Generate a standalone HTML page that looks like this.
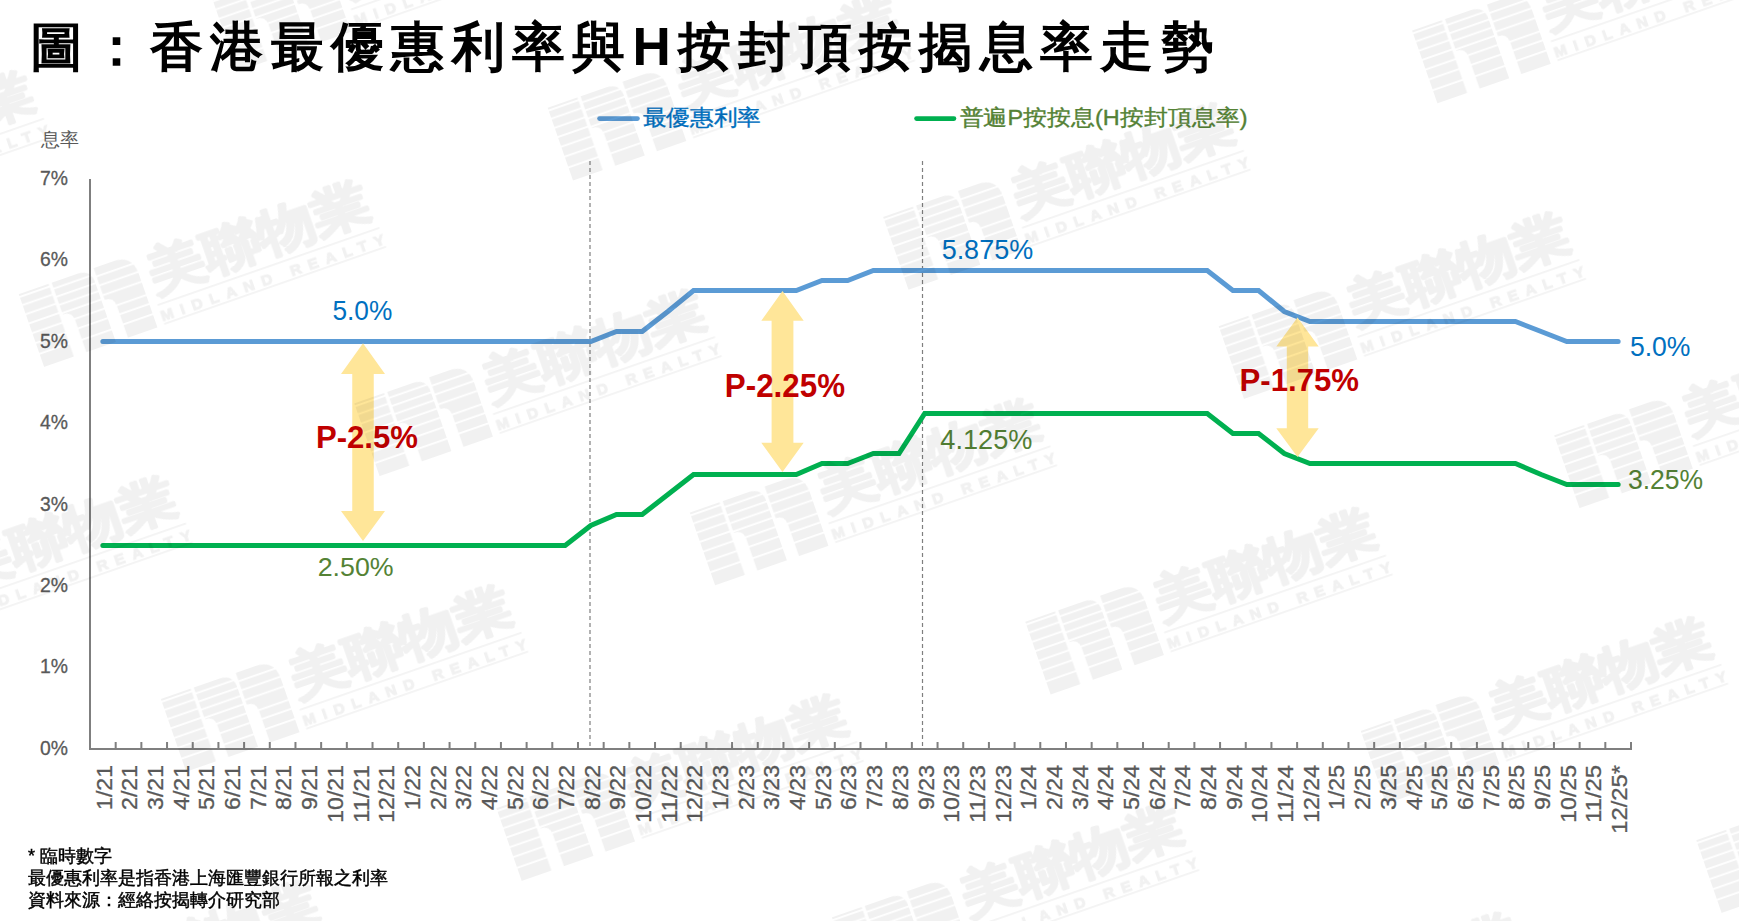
<!DOCTYPE html>
<html><head><meta charset="utf-8"><style>
html,body{margin:0;padding:0;background:#fff;width:1739px;height:921px;overflow:hidden}
svg{display:block}
text{font-family:"Liberation Sans",sans-serif}
</style></head><body>
<svg width="1739" height="921" viewBox="0 0 1739 921">
<rect width="1739" height="921" fill="#fff"/>
<text x="29.5" y="64.8" font-size="53" font-weight="bold" fill="#000" textLength="1184" lengthAdjust="spacing">圖：香港最優惠利率與H按封頂按揭息率走勢</text>
<line x1="599.5" y1="118.6" x2="637.5" y2="118.6" stroke="#5b9bd5" stroke-width="4.6" stroke-linecap="round"/>
<text x="642.5" y="124.8" font-size="21.5" fill="#0070c0" stroke="#0070c0" stroke-width="0.35" textLength="118.5" lengthAdjust="spacingAndGlyphs">最優惠利率</text>
<line x1="916.5" y1="118.6" x2="954" y2="118.6" stroke="#00b050" stroke-width="4.6" stroke-linecap="round"/>
<text x="959.5" y="124.8" font-size="21.5" fill="#548235" stroke="#548235" stroke-width="0.35" textLength="288" lengthAdjust="spacingAndGlyphs">普遍P按按息(H按封頂息率)</text>
<text x="41" y="145.8" font-size="19" fill="#595959" textLength="38" lengthAdjust="spacing">息率</text>
<text x="68.10" y="754.90" font-size="21" fill="#595959" stroke="#595959" stroke-width="0.3" text-anchor="end" textLength="28" lengthAdjust="spacingAndGlyphs">0%</text>
<text x="68.10" y="673.47" font-size="21" fill="#595959" stroke="#595959" stroke-width="0.3" text-anchor="end" textLength="28" lengthAdjust="spacingAndGlyphs">1%</text>
<text x="68.10" y="592.04" font-size="21" fill="#595959" stroke="#595959" stroke-width="0.3" text-anchor="end" textLength="28" lengthAdjust="spacingAndGlyphs">2%</text>
<text x="68.10" y="510.61" font-size="21" fill="#595959" stroke="#595959" stroke-width="0.3" text-anchor="end" textLength="28" lengthAdjust="spacingAndGlyphs">3%</text>
<text x="68.10" y="429.18" font-size="21" fill="#595959" stroke="#595959" stroke-width="0.3" text-anchor="end" textLength="28" lengthAdjust="spacingAndGlyphs">4%</text>
<text x="68.10" y="347.75" font-size="21" fill="#595959" stroke="#595959" stroke-width="0.3" text-anchor="end" textLength="28" lengthAdjust="spacingAndGlyphs">5%</text>
<text x="68.10" y="266.32" font-size="21" fill="#595959" stroke="#595959" stroke-width="0.3" text-anchor="end" textLength="28" lengthAdjust="spacingAndGlyphs">6%</text>
<text x="68.10" y="184.89" font-size="21" fill="#595959" stroke="#595959" stroke-width="0.3" text-anchor="end" textLength="28" lengthAdjust="spacingAndGlyphs">7%</text>
<line x1="590" y1="161" x2="590" y2="747" stroke="#7f7f7f" stroke-width="1.2" stroke-dasharray="4,3"/>
<line x1="922.5" y1="161" x2="922.5" y2="747" stroke="#7f7f7f" stroke-width="1.2" stroke-dasharray="4,3"/>
<line x1="90.0" y1="179" x2="90.0" y2="749.0" stroke="#7f7f7f" stroke-width="2"/>
<line x1="89.0" y1="749.0" x2="1632.0" y2="749.0" stroke="#7f7f7f" stroke-width="2"/>
<path d="M115.68,742 V749.0 M141.37,742 V749.0 M167.05,742 V749.0 M192.73,742 V749.0 M218.42,742 V749.0 M244.10,742 V749.0 M269.78,742 V749.0 M295.47,742 V749.0 M321.15,742 V749.0 M346.83,742 V749.0 M372.52,742 V749.0 M398.20,742 V749.0 M423.88,742 V749.0 M449.57,742 V749.0 M475.25,742 V749.0 M500.93,742 V749.0 M526.62,742 V749.0 M552.30,742 V749.0 M577.98,742 V749.0 M603.67,742 V749.0 M629.35,742 V749.0 M655.03,742 V749.0 M680.72,742 V749.0 M706.40,742 V749.0 M732.08,742 V749.0 M757.77,742 V749.0 M783.45,742 V749.0 M809.13,742 V749.0 M834.82,742 V749.0 M860.50,742 V749.0 M886.18,742 V749.0 M911.87,742 V749.0 M937.55,742 V749.0 M963.23,742 V749.0 M988.92,742 V749.0 M1014.60,742 V749.0 M1040.28,742 V749.0 M1065.97,742 V749.0 M1091.65,742 V749.0 M1117.33,742 V749.0 M1143.02,742 V749.0 M1168.70,742 V749.0 M1194.38,742 V749.0 M1220.07,742 V749.0 M1245.75,742 V749.0 M1271.43,742 V749.0 M1297.12,742 V749.0 M1322.80,742 V749.0 M1348.48,742 V749.0 M1374.17,742 V749.0 M1399.85,742 V749.0 M1425.53,742 V749.0 M1451.22,742 V749.0 M1476.90,742 V749.0 M1502.58,742 V749.0 M1528.27,742 V749.0 M1553.95,742 V749.0 M1579.63,742 V749.0 M1605.32,742 V749.0 M1631.00,742 V749.0 " stroke="#7f7f7f" stroke-width="2" fill="none"/>
<text transform="translate(111.66,765) rotate(-90)" x="0" y="0" font-size="22" fill="#595959" stroke="#595959" stroke-width="0.3" text-anchor="end" textLength="44.95" lengthAdjust="spacingAndGlyphs">1/21</text>
<text transform="translate(137.34,765) rotate(-90)" x="0" y="0" font-size="22" fill="#595959" stroke="#595959" stroke-width="0.3" text-anchor="end" textLength="44.95" lengthAdjust="spacingAndGlyphs">2/21</text>
<text transform="translate(163.03,765) rotate(-90)" x="0" y="0" font-size="22" fill="#595959" stroke="#595959" stroke-width="0.3" text-anchor="end" textLength="44.95" lengthAdjust="spacingAndGlyphs">3/21</text>
<text transform="translate(188.71,765) rotate(-90)" x="0" y="0" font-size="22" fill="#595959" stroke="#595959" stroke-width="0.3" text-anchor="end" textLength="44.95" lengthAdjust="spacingAndGlyphs">4/21</text>
<text transform="translate(214.39,765) rotate(-90)" x="0" y="0" font-size="22" fill="#595959" stroke="#595959" stroke-width="0.3" text-anchor="end" textLength="44.95" lengthAdjust="spacingAndGlyphs">5/21</text>
<text transform="translate(240.08,765) rotate(-90)" x="0" y="0" font-size="22" fill="#595959" stroke="#595959" stroke-width="0.3" text-anchor="end" textLength="44.95" lengthAdjust="spacingAndGlyphs">6/21</text>
<text transform="translate(265.76,765) rotate(-90)" x="0" y="0" font-size="22" fill="#595959" stroke="#595959" stroke-width="0.3" text-anchor="end" textLength="44.95" lengthAdjust="spacingAndGlyphs">7/21</text>
<text transform="translate(291.44,765) rotate(-90)" x="0" y="0" font-size="22" fill="#595959" stroke="#595959" stroke-width="0.3" text-anchor="end" textLength="44.95" lengthAdjust="spacingAndGlyphs">8/21</text>
<text transform="translate(317.13,765) rotate(-90)" x="0" y="0" font-size="22" fill="#595959" stroke="#595959" stroke-width="0.3" text-anchor="end" textLength="44.95" lengthAdjust="spacingAndGlyphs">9/21</text>
<text transform="translate(342.81,765) rotate(-90)" x="0" y="0" font-size="22" fill="#595959" stroke="#595959" stroke-width="0.3" text-anchor="end" textLength="57.80" lengthAdjust="spacingAndGlyphs">10/21</text>
<text transform="translate(368.50,765) rotate(-90)" x="0" y="0" font-size="22" fill="#595959" stroke="#595959" stroke-width="0.3" text-anchor="end" textLength="57.80" lengthAdjust="spacingAndGlyphs">11/21</text>
<text transform="translate(394.18,765) rotate(-90)" x="0" y="0" font-size="22" fill="#595959" stroke="#595959" stroke-width="0.3" text-anchor="end" textLength="57.80" lengthAdjust="spacingAndGlyphs">12/21</text>
<text transform="translate(419.86,765) rotate(-90)" x="0" y="0" font-size="22" fill="#595959" stroke="#595959" stroke-width="0.3" text-anchor="end" textLength="44.95" lengthAdjust="spacingAndGlyphs">1/22</text>
<text transform="translate(445.55,765) rotate(-90)" x="0" y="0" font-size="22" fill="#595959" stroke="#595959" stroke-width="0.3" text-anchor="end" textLength="44.95" lengthAdjust="spacingAndGlyphs">2/22</text>
<text transform="translate(471.23,765) rotate(-90)" x="0" y="0" font-size="22" fill="#595959" stroke="#595959" stroke-width="0.3" text-anchor="end" textLength="44.95" lengthAdjust="spacingAndGlyphs">3/22</text>
<text transform="translate(496.91,765) rotate(-90)" x="0" y="0" font-size="22" fill="#595959" stroke="#595959" stroke-width="0.3" text-anchor="end" textLength="44.95" lengthAdjust="spacingAndGlyphs">4/22</text>
<text transform="translate(522.59,765) rotate(-90)" x="0" y="0" font-size="22" fill="#595959" stroke="#595959" stroke-width="0.3" text-anchor="end" textLength="44.95" lengthAdjust="spacingAndGlyphs">5/22</text>
<text transform="translate(548.28,765) rotate(-90)" x="0" y="0" font-size="22" fill="#595959" stroke="#595959" stroke-width="0.3" text-anchor="end" textLength="44.95" lengthAdjust="spacingAndGlyphs">6/22</text>
<text transform="translate(573.96,765) rotate(-90)" x="0" y="0" font-size="22" fill="#595959" stroke="#595959" stroke-width="0.3" text-anchor="end" textLength="44.95" lengthAdjust="spacingAndGlyphs">7/22</text>
<text transform="translate(599.64,765) rotate(-90)" x="0" y="0" font-size="22" fill="#595959" stroke="#595959" stroke-width="0.3" text-anchor="end" textLength="44.95" lengthAdjust="spacingAndGlyphs">8/22</text>
<text transform="translate(625.33,765) rotate(-90)" x="0" y="0" font-size="22" fill="#595959" stroke="#595959" stroke-width="0.3" text-anchor="end" textLength="44.95" lengthAdjust="spacingAndGlyphs">9/22</text>
<text transform="translate(651.01,765) rotate(-90)" x="0" y="0" font-size="22" fill="#595959" stroke="#595959" stroke-width="0.3" text-anchor="end" textLength="57.80" lengthAdjust="spacingAndGlyphs">10/22</text>
<text transform="translate(676.69,765) rotate(-90)" x="0" y="0" font-size="22" fill="#595959" stroke="#595959" stroke-width="0.3" text-anchor="end" textLength="57.80" lengthAdjust="spacingAndGlyphs">11/22</text>
<text transform="translate(702.38,765) rotate(-90)" x="0" y="0" font-size="22" fill="#595959" stroke="#595959" stroke-width="0.3" text-anchor="end" textLength="57.80" lengthAdjust="spacingAndGlyphs">12/22</text>
<text transform="translate(728.06,765) rotate(-90)" x="0" y="0" font-size="22" fill="#595959" stroke="#595959" stroke-width="0.3" text-anchor="end" textLength="44.95" lengthAdjust="spacingAndGlyphs">1/23</text>
<text transform="translate(753.74,765) rotate(-90)" x="0" y="0" font-size="22" fill="#595959" stroke="#595959" stroke-width="0.3" text-anchor="end" textLength="44.95" lengthAdjust="spacingAndGlyphs">2/23</text>
<text transform="translate(779.43,765) rotate(-90)" x="0" y="0" font-size="22" fill="#595959" stroke="#595959" stroke-width="0.3" text-anchor="end" textLength="44.95" lengthAdjust="spacingAndGlyphs">3/23</text>
<text transform="translate(805.11,765) rotate(-90)" x="0" y="0" font-size="22" fill="#595959" stroke="#595959" stroke-width="0.3" text-anchor="end" textLength="44.95" lengthAdjust="spacingAndGlyphs">4/23</text>
<text transform="translate(830.79,765) rotate(-90)" x="0" y="0" font-size="22" fill="#595959" stroke="#595959" stroke-width="0.3" text-anchor="end" textLength="44.95" lengthAdjust="spacingAndGlyphs">5/23</text>
<text transform="translate(856.48,765) rotate(-90)" x="0" y="0" font-size="22" fill="#595959" stroke="#595959" stroke-width="0.3" text-anchor="end" textLength="44.95" lengthAdjust="spacingAndGlyphs">6/23</text>
<text transform="translate(882.16,765) rotate(-90)" x="0" y="0" font-size="22" fill="#595959" stroke="#595959" stroke-width="0.3" text-anchor="end" textLength="44.95" lengthAdjust="spacingAndGlyphs">7/23</text>
<text transform="translate(907.84,765) rotate(-90)" x="0" y="0" font-size="22" fill="#595959" stroke="#595959" stroke-width="0.3" text-anchor="end" textLength="44.95" lengthAdjust="spacingAndGlyphs">8/23</text>
<text transform="translate(933.53,765) rotate(-90)" x="0" y="0" font-size="22" fill="#595959" stroke="#595959" stroke-width="0.3" text-anchor="end" textLength="44.95" lengthAdjust="spacingAndGlyphs">9/23</text>
<text transform="translate(959.21,765) rotate(-90)" x="0" y="0" font-size="22" fill="#595959" stroke="#595959" stroke-width="0.3" text-anchor="end" textLength="57.80" lengthAdjust="spacingAndGlyphs">10/23</text>
<text transform="translate(984.89,765) rotate(-90)" x="0" y="0" font-size="22" fill="#595959" stroke="#595959" stroke-width="0.3" text-anchor="end" textLength="57.80" lengthAdjust="spacingAndGlyphs">11/23</text>
<text transform="translate(1010.58,765) rotate(-90)" x="0" y="0" font-size="22" fill="#595959" stroke="#595959" stroke-width="0.3" text-anchor="end" textLength="57.80" lengthAdjust="spacingAndGlyphs">12/23</text>
<text transform="translate(1036.26,765) rotate(-90)" x="0" y="0" font-size="22" fill="#595959" stroke="#595959" stroke-width="0.3" text-anchor="end" textLength="44.95" lengthAdjust="spacingAndGlyphs">1/24</text>
<text transform="translate(1061.95,765) rotate(-90)" x="0" y="0" font-size="22" fill="#595959" stroke="#595959" stroke-width="0.3" text-anchor="end" textLength="44.95" lengthAdjust="spacingAndGlyphs">2/24</text>
<text transform="translate(1087.63,765) rotate(-90)" x="0" y="0" font-size="22" fill="#595959" stroke="#595959" stroke-width="0.3" text-anchor="end" textLength="44.95" lengthAdjust="spacingAndGlyphs">3/24</text>
<text transform="translate(1113.31,765) rotate(-90)" x="0" y="0" font-size="22" fill="#595959" stroke="#595959" stroke-width="0.3" text-anchor="end" textLength="44.95" lengthAdjust="spacingAndGlyphs">4/24</text>
<text transform="translate(1139.00,765) rotate(-90)" x="0" y="0" font-size="22" fill="#595959" stroke="#595959" stroke-width="0.3" text-anchor="end" textLength="44.95" lengthAdjust="spacingAndGlyphs">5/24</text>
<text transform="translate(1164.68,765) rotate(-90)" x="0" y="0" font-size="22" fill="#595959" stroke="#595959" stroke-width="0.3" text-anchor="end" textLength="44.95" lengthAdjust="spacingAndGlyphs">6/24</text>
<text transform="translate(1190.36,765) rotate(-90)" x="0" y="0" font-size="22" fill="#595959" stroke="#595959" stroke-width="0.3" text-anchor="end" textLength="44.95" lengthAdjust="spacingAndGlyphs">7/24</text>
<text transform="translate(1216.05,765) rotate(-90)" x="0" y="0" font-size="22" fill="#595959" stroke="#595959" stroke-width="0.3" text-anchor="end" textLength="44.95" lengthAdjust="spacingAndGlyphs">8/24</text>
<text transform="translate(1241.73,765) rotate(-90)" x="0" y="0" font-size="22" fill="#595959" stroke="#595959" stroke-width="0.3" text-anchor="end" textLength="44.95" lengthAdjust="spacingAndGlyphs">9/24</text>
<text transform="translate(1267.41,765) rotate(-90)" x="0" y="0" font-size="22" fill="#595959" stroke="#595959" stroke-width="0.3" text-anchor="end" textLength="57.80" lengthAdjust="spacingAndGlyphs">10/24</text>
<text transform="translate(1293.10,765) rotate(-90)" x="0" y="0" font-size="22" fill="#595959" stroke="#595959" stroke-width="0.3" text-anchor="end" textLength="57.80" lengthAdjust="spacingAndGlyphs">11/24</text>
<text transform="translate(1318.78,765) rotate(-90)" x="0" y="0" font-size="22" fill="#595959" stroke="#595959" stroke-width="0.3" text-anchor="end" textLength="57.80" lengthAdjust="spacingAndGlyphs">12/24</text>
<text transform="translate(1344.46,765) rotate(-90)" x="0" y="0" font-size="22" fill="#595959" stroke="#595959" stroke-width="0.3" text-anchor="end" textLength="44.95" lengthAdjust="spacingAndGlyphs">1/25</text>
<text transform="translate(1370.15,765) rotate(-90)" x="0" y="0" font-size="22" fill="#595959" stroke="#595959" stroke-width="0.3" text-anchor="end" textLength="44.95" lengthAdjust="spacingAndGlyphs">2/25</text>
<text transform="translate(1395.83,765) rotate(-90)" x="0" y="0" font-size="22" fill="#595959" stroke="#595959" stroke-width="0.3" text-anchor="end" textLength="44.95" lengthAdjust="spacingAndGlyphs">3/25</text>
<text transform="translate(1421.51,765) rotate(-90)" x="0" y="0" font-size="22" fill="#595959" stroke="#595959" stroke-width="0.3" text-anchor="end" textLength="44.95" lengthAdjust="spacingAndGlyphs">4/25</text>
<text transform="translate(1447.20,765) rotate(-90)" x="0" y="0" font-size="22" fill="#595959" stroke="#595959" stroke-width="0.3" text-anchor="end" textLength="44.95" lengthAdjust="spacingAndGlyphs">5/25</text>
<text transform="translate(1472.88,765) rotate(-90)" x="0" y="0" font-size="22" fill="#595959" stroke="#595959" stroke-width="0.3" text-anchor="end" textLength="44.95" lengthAdjust="spacingAndGlyphs">6/25</text>
<text transform="translate(1498.56,765) rotate(-90)" x="0" y="0" font-size="22" fill="#595959" stroke="#595959" stroke-width="0.3" text-anchor="end" textLength="44.95" lengthAdjust="spacingAndGlyphs">7/25</text>
<text transform="translate(1524.25,765) rotate(-90)" x="0" y="0" font-size="22" fill="#595959" stroke="#595959" stroke-width="0.3" text-anchor="end" textLength="44.95" lengthAdjust="spacingAndGlyphs">8/25</text>
<text transform="translate(1549.93,765) rotate(-90)" x="0" y="0" font-size="22" fill="#595959" stroke="#595959" stroke-width="0.3" text-anchor="end" textLength="44.95" lengthAdjust="spacingAndGlyphs">9/25</text>
<text transform="translate(1575.61,765) rotate(-90)" x="0" y="0" font-size="22" fill="#595959" stroke="#595959" stroke-width="0.3" text-anchor="end" textLength="57.80" lengthAdjust="spacingAndGlyphs">10/25</text>
<text transform="translate(1601.30,765) rotate(-90)" x="0" y="0" font-size="22" fill="#595959" stroke="#595959" stroke-width="0.3" text-anchor="end" textLength="57.80" lengthAdjust="spacingAndGlyphs">11/25</text>
<text transform="translate(1626.98,765) rotate(-90)" x="0" y="0" font-size="22" fill="#595959" stroke="#595959" stroke-width="0.3" text-anchor="end" textLength="68.78" lengthAdjust="spacingAndGlyphs">12/25*</text>
<path d="M102.84,341.50 L128.53,341.50 L154.21,341.50 L179.89,341.50 L205.57,341.50 L231.26,341.50 L256.94,341.50 L282.62,341.50 L308.31,341.50 L333.99,341.50 L359.68,341.50 L385.36,341.50 L411.04,341.50 L436.73,341.50 L462.41,341.50 L488.09,341.50 L513.77,341.50 L539.46,341.50 L565.14,341.50 L590.83,341.50 L616.51,331.50 L642.19,331.50 L667.88,311.50 L693.56,290.50 L719.24,290.50 L744.92,290.50 L770.61,290.50 L796.29,290.50 L821.98,280.50 L847.66,280.50 L873.34,270.50 L899.02,270.50 L924.71,270.50 L950.39,270.50 L976.08,270.50 L1001.76,270.50 L1027.44,270.50 L1053.12,270.50 L1078.81,270.50 L1104.49,270.50 L1130.17,270.50 L1155.86,270.50 L1181.54,270.50 L1207.22,270.50 L1232.91,290.50 L1258.59,290.50 L1284.28,311.50 L1309.96,321.50 L1335.64,321.50 L1361.33,321.50 L1387.01,321.50 L1412.69,321.50 L1438.38,321.50 L1464.06,321.50 L1489.74,321.50 L1515.42,321.50 L1541.11,331.50 L1566.79,341.50 L1592.47,341.50 L1618.16,341.50" fill="none" stroke="#5b9bd5" stroke-width="5" stroke-linecap="round" stroke-linejoin="miter"/>
<path d="M102.84,545.50 L128.53,545.50 L154.21,545.50 L179.89,545.50 L205.57,545.50 L231.26,545.50 L256.94,545.50 L282.62,545.50 L308.31,545.50 L333.99,545.50 L359.68,545.50 L385.36,545.50 L411.04,545.50 L436.73,545.50 L462.41,545.50 L488.09,545.50 L513.77,545.50 L539.46,545.50 L565.14,545.50 L590.83,525.50 L616.51,514.50 L642.19,514.50 L667.88,494.50 L693.56,474.50 L719.24,474.50 L744.92,474.50 L770.61,474.50 L796.29,474.50 L821.98,463.50 L847.66,463.50 L873.34,453.50 L899.02,453.50 L924.71,413.50 L950.39,413.50 L976.08,413.50 L1001.76,413.50 L1027.44,413.50 L1053.12,413.50 L1078.81,413.50 L1104.49,413.50 L1130.17,413.50 L1155.86,413.50 L1181.54,413.50 L1207.22,413.50 L1232.91,433.50 L1258.59,433.50 L1284.28,453.50 L1309.96,463.50 L1335.64,463.50 L1361.33,463.50 L1387.01,463.50 L1412.69,463.50 L1438.38,463.50 L1464.06,463.50 L1489.74,463.50 L1515.42,463.50 L1541.11,474.50 L1566.79,484.50 L1592.47,484.50 L1618.16,484.50" fill="none" stroke="#00b050" stroke-width="5" stroke-linecap="round" stroke-linejoin="miter"/>
<path d="M363,343.2 L385.0,374 L373.75,374 L373.75,511 L385.0,511 L363,540.9 L341.0,511 L352.25,511 L352.25,374 L341.0,374 Z" fill="#ffe699"/>
<path d="M782.5,290.9 L803.7,320.8 L793.4,320.8 L793.4,442.8 L803.7,442.8 L782.5,472.1 L761.3,442.8 L771.6,442.8 L771.6,320.8 L761.3,320.8 Z" fill="#ffe699"/>
<path d="M1297.5,317.5 L1318.7,346.5 L1308.2,346.5 L1308.2,428.3 L1318.7,428.3 L1297.5,456.9 L1276.3,428.3 L1286.8,428.3 L1286.8,346.5 L1276.3,346.5 Z" fill="#ffe699"/>
<text x="315.92" y="447.90" font-size="31.57" font-weight="bold" fill="#c00000" textLength="102.01" lengthAdjust="spacingAndGlyphs">P-2.5%</text>
<text x="724.87" y="397.20" font-size="32.57" font-weight="bold" fill="#c00000" textLength="120.18" lengthAdjust="spacingAndGlyphs">P-2.25%</text>
<text x="1239.59" y="390.80" font-size="32.14" font-weight="bold" fill="#c00000" textLength="119.45" lengthAdjust="spacingAndGlyphs">P-1.75%</text>
<text x="332.43" y="319.90" font-size="27.43" font-weight="normal" fill="#0070c0" textLength="59.92" lengthAdjust="spacingAndGlyphs">5.0%</text>
<text x="317.68" y="575.50" font-size="26.43" font-weight="normal" fill="#548235" textLength="75.95" lengthAdjust="spacingAndGlyphs">2.50%</text>
<text x="941.64" y="258.50" font-size="27.14" font-weight="normal" fill="#0070c0" textLength="91.50" lengthAdjust="spacingAndGlyphs">5.875%</text>
<text x="940.35" y="449.20" font-size="27.00" font-weight="normal" fill="#548235" textLength="91.99" lengthAdjust="spacingAndGlyphs">4.125%</text>
<text x="1629.90" y="356.20" font-size="28.00" font-weight="normal" fill="#0070c0" textLength="60.56" lengthAdjust="spacingAndGlyphs">5.0%</text>
<text x="1627.94" y="488.50" font-size="27.14" font-weight="normal" fill="#548235" textLength="75.20" lengthAdjust="spacingAndGlyphs">3.25%</text>
<defs><mask id="wmm" maskUnits="userSpaceOnUse" x="-10" y="-100" width="400" height="120"><rect x="-10" y="-100" width="400" height="120" fill="#fff"/><rect x="-5" y="-75.00" width="38" height="1.8" fill="#000"/><rect x="-5" y="-66.40" width="38" height="1.8" fill="#000"/><rect x="-5" y="-56.60" width="38" height="1.8" fill="#000"/><rect x="-5" y="-46.90" width="38" height="1.8" fill="#000"/><rect x="-5" y="-36.60" width="38" height="1.8" fill="#000"/><rect x="-5" y="-26.20" width="38" height="1.8" fill="#000"/><rect x="-5" y="-14.70" width="38" height="1.8" fill="#000"/><rect x="33" y="-71.60" width="44.5" height="1.8" fill="#000"/><rect x="33" y="-63.10" width="44.5" height="1.8" fill="#000"/><rect x="33" y="-54.50" width="44.5" height="1.8" fill="#000"/><rect x="33" y="-45.70" width="44.5" height="1.8" fill="#000"/><rect x="33" y="-36.20" width="44.5" height="1.8" fill="#000"/><rect x="33" y="-26.10" width="44.5" height="1.8" fill="#000"/><rect x="33" y="-14.10" width="44.5" height="1.8" fill="#000"/><rect x="77.5" y="-69.10" width="47.5" height="1.8" fill="#000"/><rect x="77.5" y="-59.60" width="47.5" height="1.8" fill="#000"/><rect x="77.5" y="-49.30" width="47.5" height="1.8" fill="#000"/><rect x="77.5" y="-35.20" width="47.5" height="1.8" fill="#000"/><rect x="77.5" y="-25.70" width="47.5" height="1.8" fill="#000"/><rect x="77.5" y="-15.00" width="47.5" height="1.8" fill="#000"/></mask><g id="wml"><path d="M0,-77 H31.5 V0 H0 Z M34.8,-77 H62 Q76,-77 76,-63 V0 H44.7 V-33.5 Q44.7,-43.5 34.8,-43.5 Z M79.3,-77 H100 Q120,-77 120,-57 V0 H88.8 V-33.5 Q88.8,-43.5 79.3,-43.5 Z" mask="url(#wmm)"/><text x="129" y="-34" font-size="52" font-weight="900" stroke="#000" stroke-width="2.2" stroke-linejoin="round" textLength="232" lengthAdjust="spacingAndGlyphs">美聯物業</text><rect x="127.5" y="-21.8" width="235" height="1.5"/><rect x="127.5" y="-1.8" width="235" height="1.5"/><text x="127" y="-4.2" font-size="15.5" font-weight="bold" stroke="#000" stroke-width="1.1" textLength="236" lengthAdjust="spacing">MIDLAND REALTY</text></g></defs>
<g fill="#000" opacity="0.055"><use href="#wml" transform="translate(1101.9,-5.9) rotate(-19.2)"/><use href="#wml" transform="translate(1437.4,103.3) rotate(-19.2)"/><use href="#wml" transform="translate(237.5,71.3) rotate(-19.2)"/><use href="#wml" transform="translate(573.0,180.5) rotate(-19.2)"/><use href="#wml" transform="translate(908.5,289.7) rotate(-19.2)"/><use href="#wml" transform="translate(1244.0,398.9) rotate(-19.2)"/><use href="#wml" transform="translate(1579.5,508.1) rotate(-19.2)"/><use href="#wml" transform="translate(-291.4,257.7) rotate(-19.2)"/><use href="#wml" transform="translate(44.1,366.9) rotate(-19.2)"/><use href="#wml" transform="translate(379.6,476.1) rotate(-19.2)"/><use href="#wml" transform="translate(715.1,585.3) rotate(-19.2)"/><use href="#wml" transform="translate(1050.6,694.5) rotate(-19.2)"/><use href="#wml" transform="translate(1386.1,803.7) rotate(-19.2)"/><use href="#wml" transform="translate(1721.6,912.9) rotate(-19.2)"/><use href="#wml" transform="translate(-149.3,662.5) rotate(-19.2)"/><use href="#wml" transform="translate(186.2,771.7) rotate(-19.2)"/><use href="#wml" transform="translate(521.7,880.9) rotate(-19.2)"/><use href="#wml" transform="translate(857.2,990.1) rotate(-19.2)"/><use href="#wml" transform="translate(1192.7,1099.3) rotate(-19.2)"/><use href="#wml" transform="translate(-342.7,958.1) rotate(-19.2)"/><use href="#wml" transform="translate(-7.2,1067.3) rotate(-19.2)"/></g>
<text x="28" y="862" font-size="18" fill="#000" stroke="#000" stroke-width="0.45">* 臨時數字</text>
<text x="28" y="884" font-size="18" fill="#000" stroke="#000" stroke-width="0.45" textLength="360" lengthAdjust="spacing">最優惠利率是指香港上海匯豐銀行所報之利率</text>
<text x="28" y="906" font-size="18" fill="#000" stroke="#000" stroke-width="0.45" textLength="252" lengthAdjust="spacing">資料來源：經絡按揭轉介研究部</text>
</svg></body></html>
